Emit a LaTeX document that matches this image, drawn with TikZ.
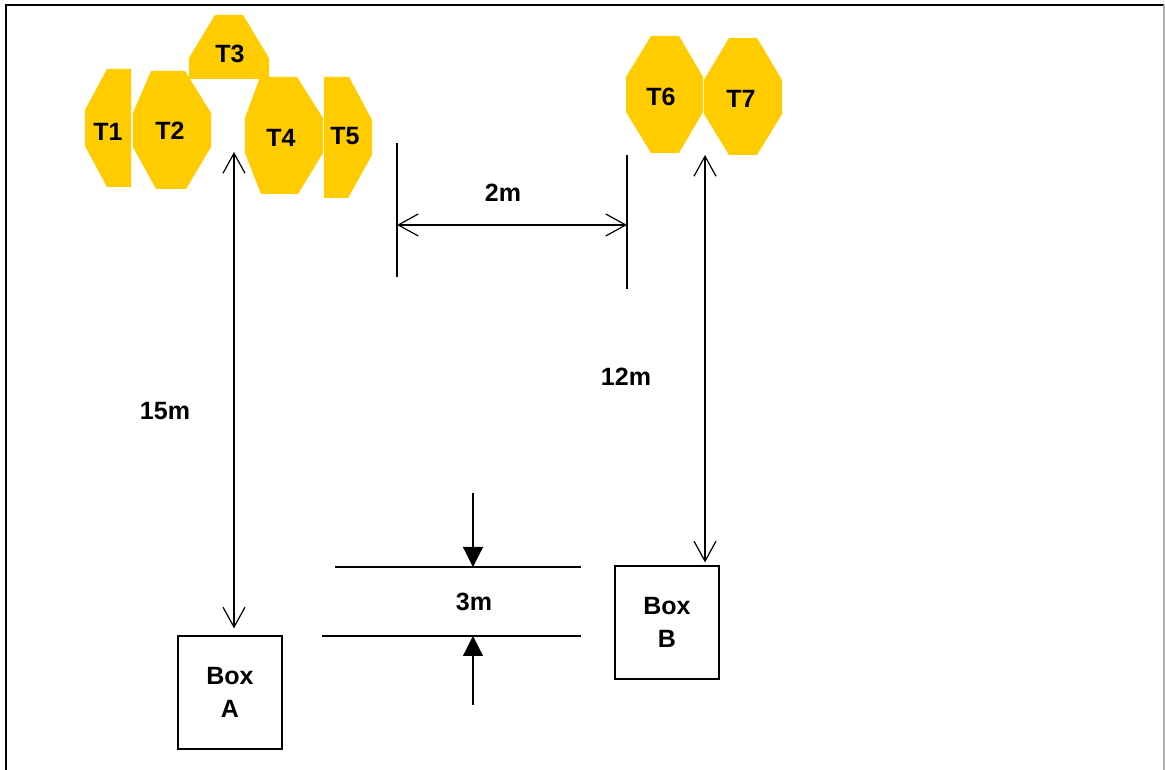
\documentclass[tikz,border=0pt]{standalone}
\usepackage{fontspec}
\setmainfont{Liberation Sans}
\usetikzlibrary{arrows.meta}
\definecolor{tyellow}{HTML}{FFCC00}
\tikzset{
  target/.style={fill=tyellow, draw=none},
  lbl/.style={font=\fontsize{25}{33}\selectfont\bfseries},
  box/.style={draw, line width=1.2pt, minimum width=104pt, minimum height=113pt, align=center, lbl},
  dimline/.style={line width=1.2pt},
  dimarrow/.style={line width=1.2pt, {Straight Barb[length=20pt,width=22pt]}-{Straight Barb[length=20pt,width=22pt]}},
  filledarrow/.style={line width=1.2pt, -{Triangle[length=20pt,width=20pt]}}
}
\begin{document}
\begin{tikzpicture}[x=1pt, y=1pt]
    \useasboundingbox (0,0) rectangle (1165,770);
    % frame
    \draw[line width=2pt] (6,0) -- (6,765) -- (1164,765);
    \draw[line width=1.5pt, gray!60] (1164,765) -- (1164,0);

    % targets
    \fill[target] (107,701) -- (131,701) -- (131,583) -- (107,583) -- (85,624) -- (85,660) -- cycle;
    \fill[target] (151,699) -- (185,699) -- (211,657) -- (211,623) -- (186,581) -- (156,581) -- (133,623) -- (133,657) -- cycle;
    \fill[target] (215,755) -- (243,755) -- (269,712) -- (269,691) -- (189,691) -- (189,712) -- cycle;
    \fill[target] (260,693) -- (297,693) -- (323,652) -- (323,617) -- (298,576) -- (261,576) -- (245,617) -- (245,652) -- cycle;
    \fill[target] (324,693) -- (349,693) -- (372,650) -- (372,615) -- (348,572) -- (324,572) -- cycle;
    \fill[target] (651,734) -- (679,734) -- (703,693) -- (703,658) -- (679,617) -- (651,617) -- (626,658) -- (626,693) -- cycle;
    \fill[target] (729,732) -- (757,732) -- (782,690) -- (782,656) -- (757,615) -- (729,615) -- (704,656) -- (704,690) -- cycle;
    \foreach \n\x\y in {1/108/638,2/170/639,3/230/716,4/281/632,5/345/634,6/661/673,7/741/671}{
      \node[lbl] (t\n) at (\x,\y) {T\n};
    }

    % boxes
    \node[box] (boxA) at (230,77.5) {Box\\A};
    \node[box] (boxB) at (667,147.5) {Box\\B};

    % 15m and 12m
    \coordinate (a15) at (234,618);
    \path (boxA.north) ++(4,7) coordinate (b15);
    \draw[dimarrow] (a15) -- (b15);
    \node[lbl] (d15) at (165,359) {15m};

    \coordinate (a12) at (705,615);
    \path (boxB.north) ++(38,3) coordinate (b12);
    \draw[dimarrow] (a12) -- (b12);
    \node[lbl] (d12) at (626,393) {12m};

    % 2m
    \coordinate (l2a) at (397,627);
    \coordinate (l2b) at (397,493);
    \coordinate (r2a) at (627,615);
    \coordinate (r2b) at (627,481);
    \draw[dimline] (l2a) -- (l2b);
    \draw[dimline] (r2a) -- (r2b);
    \draw[dimarrow] (397,545) coordinate (h2a) -- (627,545) coordinate (h2b);
    \node[lbl] (d2) at (503,577) {2m};

    % 3m
    \coordinate (u3a) at (335,203);
    \coordinate (u3b) at (581,203);
    \coordinate (w3a) at (322,134);
    \coordinate (w3b) at (581,134);
    \draw[dimline] (u3a) -- (u3b);
    \draw[dimline] (w3a) -- (w3b);
    \coordinate (s3top) at (473,277);
    \coordinate (s3bot) at (473,65);
    \draw[filledarrow] (s3top) -- (s3top |- u3a);
    \draw[filledarrow] (s3bot) -- (s3bot |- w3a);
    \node[lbl] (d3) at (474,168) {3m};
  \end{tikzpicture}
\end{document}
